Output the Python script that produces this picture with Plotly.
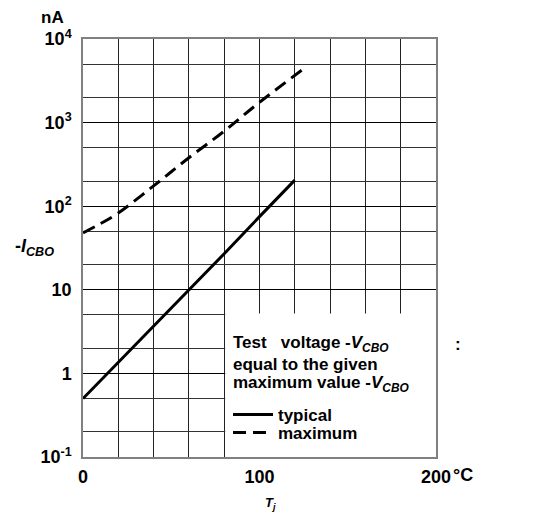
import plotly.graph_objects as go

# Data
temp_typical = [0, 20, 40, 60, 80, 100, 120]
icbo_typical = [0.5, 1.35, 3.7, 10, 27, 75, 205]

temp_maximum = [0, 10, 20, 40, 60, 80, 100, 125]
icbo_maximum = [48, 62, 83, 175, 380, 790, 1750, 4400]

x_tickvals = [0, 100, 200]
x_ticktext = ["0", "100", "200"]
y_tickvals = [0.1, 1, 10, 100, 1000, 10000]
y_ticktext = ["10<sup>-1</sup>", "1", "10", "10<sup>2</sup>", "10<sup>3</sup>", "10<sup>4</sup>"]
y_minorvals = [0.2, 0.5, 2, 5, 20, 50, 200, 500, 2000, 5000]
x_gridvals = list(range(0, 201, 20))

FONT = "Liberation Sans"
# page body has an 8px default margin; plot area should sit at x 83..436, y 39..457 on screen
OFF = 8
L, T, W, H = 83 - OFF, 39 - OFF, 353, 418

fig = go.Figure()
fig.add_trace(go.Scatter(x=temp_typical, y=icbo_typical, mode="lines", name="typical",
                         line=dict(color="black", width=3), legend="legend"))
fig.add_trace(go.Scatter(x=temp_maximum, y=icbo_maximum, mode="lines", name="maximum",
                         line=dict(color="black", width=3, dash="13px,7px"), line_shape="spline",
                         legend="legend2"))

# White box hiding the grid behind the note text
fig.add_shape(type="rect", xref="x", yref="y", x0=80.6, x1=200, y0=0.1, y1=5.2,
              fillcolor="white", line=dict(width=0), layer="between")


def px(xs):
    return (xs - 83) / W


def py(ys):
    return (457 - ys) / H


def note(text, xs, ys, size=17, anchor="left"):
    fig.add_annotation(text=text, xref="paper", yref="paper", x=px(xs), y=py(ys),
                       xanchor=anchor, yanchor="middle", showarrow=False,
                       font=dict(family=FONT, size=size, color="black", weight="bold"))


note("Test   voltage -<i>V<sub>CBO</sub></i>", 231, 344)
note(":", 453, 344)
note("equal to the given", 231, 364)
note("maximum value -<i>V<sub>CBO</sub></i>", 231, 384)
note("nA", 52, 18, size=17, anchor="center")
note("-<i>I<sub>CBO</sub></i>", 35, 247, size=18, anchor="center")
note("<i>T<sub>j</sub></i>", 270, 503, size=13, anchor="center")
note("°C", 463, 475, size=18, anchor="center")

legfont = dict(family=FONT, size=17, color="black", weight="bold")
fig.update_layout(
    width=558, height=520,
    margin=dict(l=L, r=558 - L - W, t=T, b=520 - T - H, autoexpand=False),
    plot_bgcolor="white", paper_bgcolor="white",
    showlegend=True,
    legend=dict(x=px(228), y=py(397), xanchor="left", yanchor="top",
                bgcolor="rgba(0,0,0,0)", font=legfont, itemwidth=40),
    legend2=dict(x=px(228), y=py(415), xanchor="left", yanchor="top",
                 bgcolor="rgba(0,0,0,0)", font=legfont, itemwidth=40),
    xaxis=dict(range=[0, 200], tickmode="array", tickvals=x_tickvals, ticktext=x_ticktext,
               showgrid=False, zeroline=False, automargin=False,
               showline=True, linecolor="#808080", linewidth=1.5, mirror=True,
               ticks="", ticklabelstandoff=3,
               tickfont=dict(family=FONT, size=18, color="black", weight="bold"),
               minor=dict(tickmode="array", tickvals=x_gridvals, showgrid=True,
                          gridcolor="#222", gridwidth=1, ticks="")),
    yaxis=dict(type="log", range=[-1, 4], tickmode="array", tickvals=y_tickvals, ticktext=y_ticktext,
               showgrid=True, gridcolor="#000", gridwidth=1.2, zeroline=False, automargin=False,
               showline=True, linecolor="#808080", linewidth=1.5, mirror=True,
               ticks="", ticklabelstandoff=6,
               tickfont=dict(family=FONT, size=18, color="black", weight="bold"),
               minor=dict(tickmode="array", tickvals=y_minorvals, showgrid=True,
                          gridcolor="#333", gridwidth=1, ticks="")),
)

fig.write_html("out.html")
